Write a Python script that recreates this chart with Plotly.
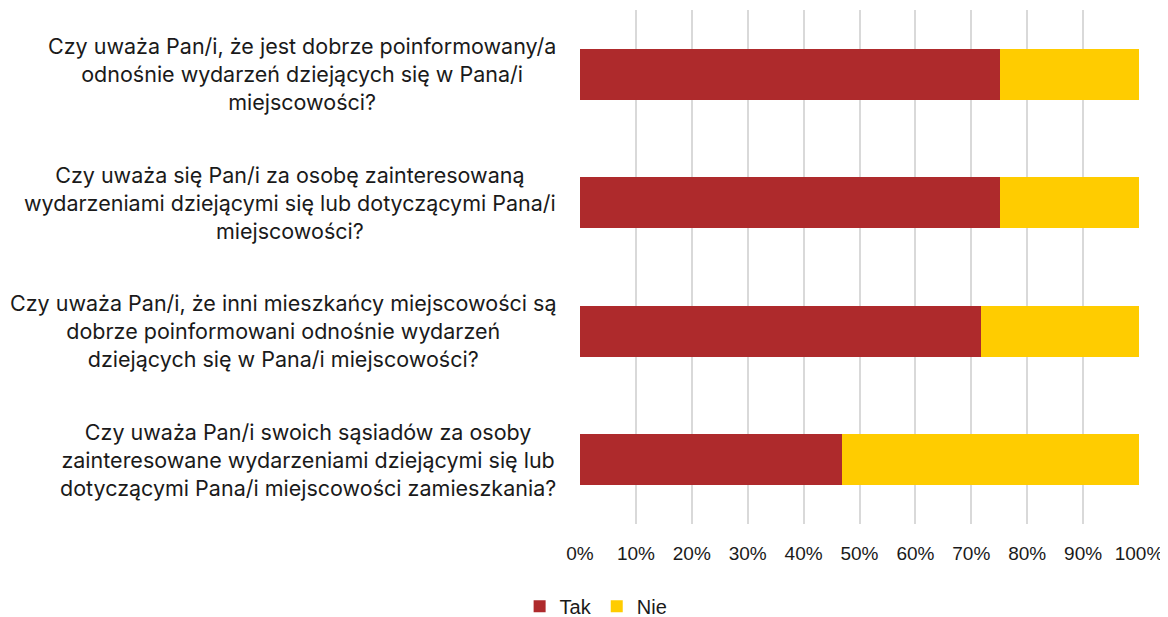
import plotly.graph_objects as go

categories = [
    "Czy uważa Pan/i, że jest dobrze poinformowany/a<br>odnośnie wydarzeń dziejących się w Pana/i<br>miejscowości?",
    "Czy uważa się Pan/i za osobę zainteresowaną<br>wydarzeniami dziejącymi się lub dotyczącymi Pana/i<br>miejscowości?",
    "Czy uważa Pan/i, że inni mieszkańcy miejscowości są<br>dobrze poinformowani odnośnie wydarzeń<br>dziejących się w Pana/i miejscowości?",
    "Czy uważa Pan/i swoich sąsiadów za osoby<br>zainteresowane wydarzeniami dziejącymi się lub<br>dotyczącymi Pana/i miejscowości zamieszkania?",
]
tak = [75.2, 75.1, 71.7, 46.9]
nie = [100 - v for v in tak]
tick_vals = [0, 10, 20, 30, 40, 50, 60, 70, 80, 90, 100]
tick_text = ["0%", "10%", "20%", "30%", "40%", "50%", "60%", "70%", "80%", "90%", "100%"]

FONT = "Liberation Sans, Arial, sans-serif"
LABEL_FONT = "Inter, Liberation Sans, sans-serif"

fig = go.Figure()
fig.add_trace(go.Bar(y=categories, x=tak, name="Tak", orientation="h",
                     marker=dict(color="#AE2A2C", line=dict(width=0))))
fig.add_trace(go.Bar(y=categories, x=nie, name="Nie", orientation="h",
                     marker=dict(color="#FFCC00", line=dict(width=0))))

for c in categories:
    fig.add_annotation(x=0, xref="paper", y=c, yref="y", text=c, showarrow=False,
                       xanchor="right", yanchor="middle", align="center", xshift=-22,
                       font=dict(size=21.5, color="#1a1a1a", family=LABEL_FONT))

fig.update_layout(
    barmode="stack",
    bargap=0.6,
    width=1160, height=609,
    margin=dict(l=572, r=29, t=2, b=93, autoexpand=False),
    plot_bgcolor="white", paper_bgcolor="white",
    font=dict(family=FONT, size=19, color="#1a1a1a"),
    showlegend=True,
    legend=dict(orientation="h", xref="container", yref="paper",
                x=0.507, y=-0.122, xanchor="center", yanchor="top",
                font=dict(size=20, color="#1a1a1a"), traceorder="normal",
                itemwidth=30),
    xaxis=dict(range=[0, 100], tickvals=tick_vals, ticktext=tick_text,
               showgrid=True, gridcolor="#D9D9D9", gridwidth=1.5,
               zeroline=False, showline=False, ticks="", ticklabelstandoff=16,
               automargin=False,
               tickfont=dict(size=19, color="#1a1a1a")),
    yaxis=dict(autorange="reversed", showticklabels=False, showgrid=False,
               zeroline=False, showline=False, ticks="", automargin=False),
)

fig.write_html("out.html")
